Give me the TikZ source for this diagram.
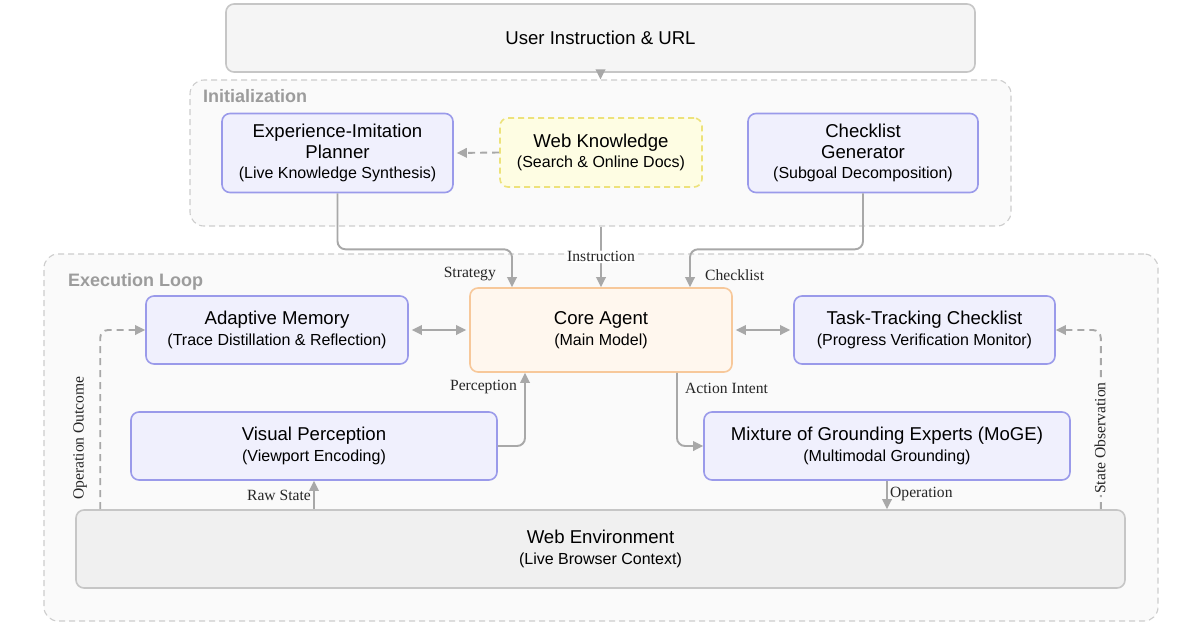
\documentclass[tikz,border=0pt]{standalone}
\usepackage{fontspec}
\setmainfont{Liberation Sans}
\newfontfamily\labfont{Liberation Serif}
\usetikzlibrary{arrows.meta}
\definecolor{bluebd}{HTML}{9A9AEA}
\definecolor{bluefl}{HTML}{F0F0FD}
\definecolor{orbd}{HTML}{F7C89A}
\definecolor{orfl}{HTML}{FFF7EE}
\definecolor{graybd}{HTML}{C6C6C6}
\definecolor{userfl}{HTML}{F5F5F5}
\definecolor{envfl}{HTML}{F0F0F0}
\definecolor{grpbd}{HTML}{CDCDCD}
\definecolor{grpfl}{HTML}{FAFAFA}
\definecolor{arrc}{HTML}{A8A8A8}
\definecolor{titc}{HTML}{9C9C9C}
\definecolor{yelbd}{HTML}{EDE27A}
\definecolor{yelfl}{HTML}{FEFDE3}
\begin{document}
\begin{tikzpicture}[x=1pt,y=-1pt,
  box/.style={draw, line width=1.6pt, rounded corners=8pt, inner sep=0pt, align=center,
    font=\fontsize{18.6}{20.8}\selectfont},
  bluebox/.style={box, draw=bluebd, fill=bluefl},
  grp/.style={draw=grpbd, fill=grpfl, line width=1.1pt, dash pattern=on 6pt off 4pt, rounded corners=14pt, inner sep=0pt},
  grptitle/.style={text=titc, font=\fontsize{18}{21}\bfseries\selectfont, anchor=west, inner sep=0pt},
  arr/.style={draw=arrc, line width=1.9pt, -{Triangle[length=10pt,width=9.5pt]}, rounded corners=8pt},
  darr/.style={arr, dash pattern=on 7pt off 5pt},
  barr/.style={draw=arrc, line width=1.9pt, {Triangle[length=10pt,width=9.5pt]}-{Triangle[length=10pt,width=9.5pt]}, shorten <=3pt, shorten >=3pt},
  lab/.style={font=\labfont\fontsize{15.6}{17}\selectfont, text=black!85, inner sep=1pt},
]
\newcommand{\subt}[1]{{\fontsize{16}{18}\selectfont #1}}
\useasboundingbox (0,0) rectangle (1200,630);
\fill[white] (0,0) rectangle (1200,630);

% groups
\node[grp, minimum width=821pt, minimum height=146pt] (init) at (600.5,153) {};
\node[grptitle] (inittitle) at (203,96) {Initialization};
\node[grp, minimum width=1114pt, minimum height=367pt] (exec) at (601,437.5) {};
\node[grptitle] (exectitle) at (68,282) {Execution Loop};

% nodes
\node[box, draw=graybd, fill=userfl, minimum width=749pt, minimum height=68pt] (user) at (600.5,38) {User Instruction \& URL};
\node[bluebox, minimum width=231pt, minimum height=79pt] (planner) at (337.5,153) {Experience-Imitation\\Planner\\\subt{(Live Knowledge Synthesis)}};
\node[box, draw=yelbd, fill=yelfl, dash pattern=on 6pt off 4pt, minimum width=202pt, minimum height=69pt] (wk) at (601,152.5) {Web Knowledge\\\subt{(Search \& Online Docs)}};
\node[bluebox, minimum width=230pt, minimum height=79pt] (cgen) at (863,153) {Checklist\\Generator\\\subt{(Subgoal Decomposition)}};

\node[box, draw=orbd, fill=orfl, minimum width=262pt, minimum height=84pt] (core) at (601,330) {Core Agent\\\subt{(Main Model)}};
\node[bluebox, minimum width=262pt, minimum height=68pt] (mem) at (277,330) {Adaptive Memory\\\subt{(Trace Distillation \& Reflection)}};
\node[bluebox, minimum width=261pt, minimum height=68pt] (task) at (924.5,330) {Task-Tracking Checklist\\\subt{(Progress Verification Monitor)}};
\node[bluebox, minimum width=366pt, minimum height=68pt] (vis) at (314,446) {Visual Perception\\\subt{(Viewport Encoding)}};
\node[bluebox, minimum width=366pt, minimum height=68pt] (moge) at (887,446) {Mixture of Grounding Experts (MoGE)\\\subt{(Multimodal Grounding)}};
\node[box, draw=graybd, fill=envfl, minimum width=1049pt, minimum height=78pt] (env) at (600.5,549) {Web Environment\\\subt{(Live Browser Context)}};

% connectors
\draw[arr] (user.south) -- (init.north);
\draw[darr, shorten >=3pt] (wk.west) -- (planner.east);
\draw[arr] (planner.south) -- ++(0,56) -| ([xshift=-89pt]core.north);
\draw[arr] (cgen.south) -- ++(0,56) -| ([xshift=89pt]core.north);
\draw[arr] (init.south -| core.north) -- node[lab, fill=white, pos=0.5] (instrlab) {Instruction} (core.north);
\node[lab, anchor=east] (stratlab) at (497,274) {Strategy};
\node[lab, anchor=west] (checklab) at (704,275) {Checklist};

\draw[barr] (mem.east) -- (core.west);
\draw[barr] (core.east) -- (task.west);

\draw[arr] (vis.east) -| ([xshift=-76pt]core.south);
\node[lab, anchor=east] (perclab) at (518,387) {Perception};
\draw[arr] ([xshift=76pt]core.south) |- (moge.west);
\node[lab, anchor=west] (actlab) at (684,388) {Action Intent};

\draw[arr] (moge.south) -- (moge.south |- env.north);
\node[lab, anchor=west] (oplab) at (889,494) {Operation};
\draw[arr] (vis.south |- env.north) -- (vis.south);
\node[lab, anchor=east] (rawlab) at (312,495) {Raw State};

\coordinate (oo) at ([xshift=25pt]env.north west);
\coordinate (so) at ([xshift=-25pt]env.north east);
\draw[darr] (oo) |- (mem.west);
\node[lab, rotate=90] (oolab) at (80,438) {Operation Outcome};
\draw[darr] (so) |- (task.east);
\node[lab, rotate=90, fill=grpfl] (solab) at (1100,438) {State Observation};
\end{tikzpicture}
\end{document}
